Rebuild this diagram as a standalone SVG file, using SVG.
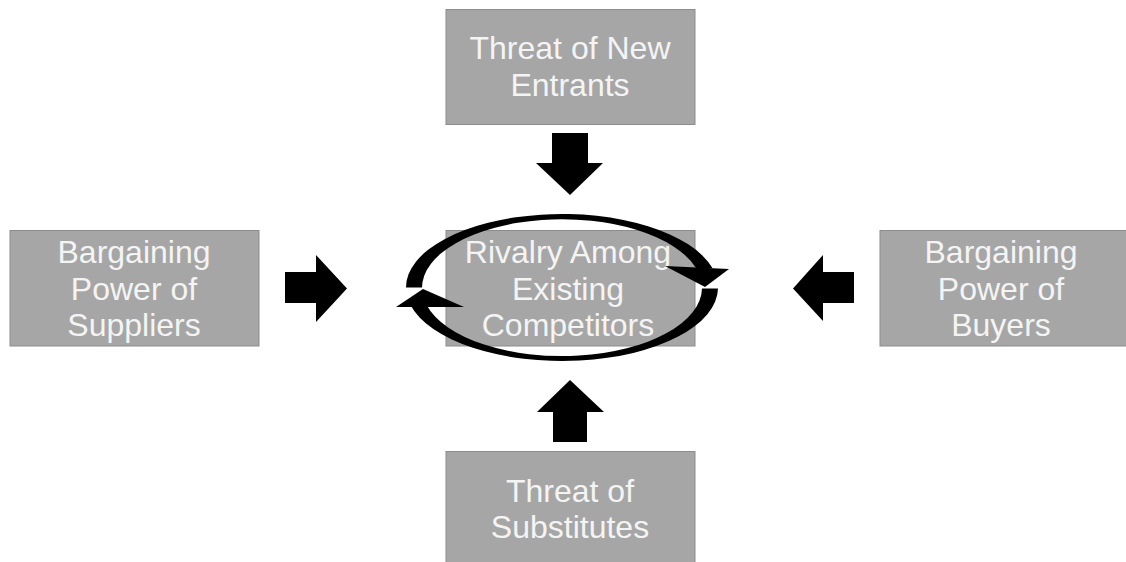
<svg xmlns="http://www.w3.org/2000/svg" width="1126" height="562" viewBox="0 0 1126 562">
  <style>
    .box { fill: #a6a6a6; stroke: #8c8c8c; stroke-width: 1; }
    .label { font-family: "Liberation Sans", Arial, sans-serif; font-size: 32px; fill: #f4f4f4; text-anchor: middle; }
    .force { fill: #000000; }
  </style>
  <rect x="0" y="0" width="1126" height="562" fill="#ffffff"/>

  <g id="new-entrants">
    <rect class="box" x="446" y="9.5" width="249" height="115"/>
    <text class="label" x="570" y="59">Threat of New</text>
    <text class="label" x="570" y="96">Entrants</text>
  </g>

  <g id="suppliers">
    <rect class="box" x="10" y="230.5" width="249" height="115.5"/>
    <text class="label" x="134" y="263">Bargaining</text>
    <text class="label" x="134" y="299.5">Power of</text>
    <text class="label" x="134" y="336">Suppliers</text>
  </g>

  <g id="rivalry">
    <rect class="box" x="446" y="230.5" width="249" height="115.5"/>
    <text class="label" x="568" y="263">Rivalry Among</text>
    <text class="label" x="568" y="299.5">Existing</text>
    <text class="label" x="568" y="336">Competitors</text>
  </g>

  <g id="buyers">
    <rect class="box" x="880" y="230.5" width="260" height="115.5"/>
    <text class="label" x="1001" y="263">Bargaining</text>
    <text class="label" x="1001" y="299.5">Power of</text>
    <text class="label" x="1001" y="336">Buyers</text>
  </g>

  <g id="substitutes">
    <rect class="box" x="446" y="451.5" width="249" height="120"/>
    <text class="label" x="570" y="502">Threat of</text>
    <text class="label" x="570" y="538">Substitutes</text>
  </g>

  <g id="connectors">
    <!-- block arrows pointing at the centre -->
    <polygon class="force" points="552,133 588,133 588,163 603,163 570,195 536,163 552,163"/>
    <polygon class="force" points="553,442 587,442 587,412 604,412 570,380 537,412 553,412"/>
    <polygon class="force" points="285,272 316,272 316,255 347,288.5 316,322 316,303 285,303"/>
    <polygon class="force" points="854,272 823,272 823,255 793,288.5 823,321 823,303 854,303"/>

    <!-- circular rivalry arrows around the centre box -->
    <path class="force" d="M406,287.5 A156,73.5 0 0 1 712.4,268 L696,268 A140,68.5 0 0 0 422,287.5 Z"/>
    <polygon class="force" points="665,266 729,269 705,287"/>
    <path class="force" d="M718,288.5 A156,73.5 0 0 1 410.5,305 L426.6,305 A140,68.5 0 0 0 702,288.5 Z"/>
    <polygon class="force" points="396,307 464,307 423,289"/>
  </g>
</svg>
